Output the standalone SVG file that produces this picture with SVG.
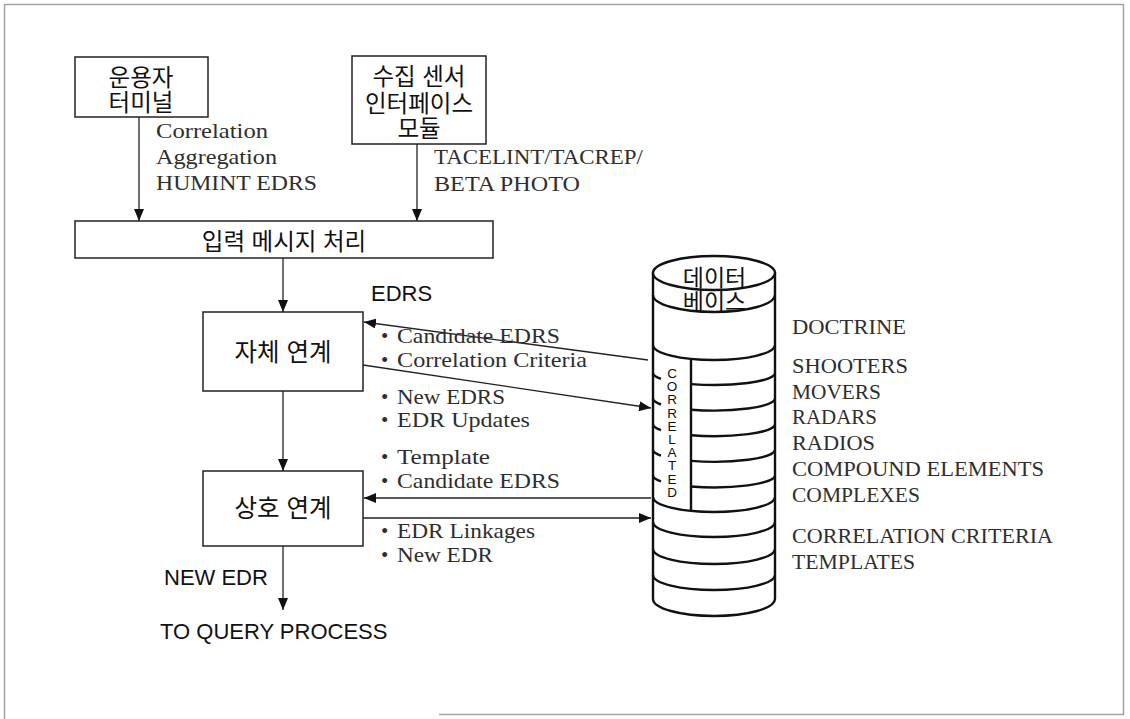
<svg xmlns="http://www.w3.org/2000/svg" width="1130" height="719" viewBox="0 0 1130 719">
  <style>
    .frame { fill: none; stroke: #a3a3a3; stroke-width: 1.5; }
    .box { fill: #fff; stroke: #222; stroke-width: 1.5; }
    .ko { font-family: "Liberation Sans", "Noto Sans CJK KR", sans-serif; font-size: 23.5px; fill: #111; text-anchor: middle; }
    .serif { font-family: "Liberation Serif", "Times New Roman", serif; font-size: 21px; fill: #2e2e2e; }
    .sans { font-family: "Liberation Sans", Arial, sans-serif; font-size: 22px; fill: #111; }
    .vert { font-family: "Liberation Sans", Arial, sans-serif; font-size: 13.5px; fill: #111; writing-mode: vertical-rl; text-orientation: upright; letter-spacing: -1.8px; }
    .conn { fill: none; stroke: #222; stroke-width: 1.3; }
    .db { fill: #fff; stroke: #111; stroke-width: 2.4; }
    .dbline { fill: none; stroke: #111; stroke-width: 2.4; }
  </style>
  <defs>
    <marker id="arrow" markerUnits="userSpaceOnUse" markerWidth="12" markerHeight="10" refX="12" refY="5" orient="auto">
      <path d="M0,0 L12,5 L0,10 Z" fill="#111"/>
    </marker>
  </defs>

  <rect width="1130" height="719" fill="#fff"/>
  <path class="frame" d="M4.5,719 V4.5 H1123.5 V714.5 H439"/>

  <!-- connectors -->
  <g id="connectors">
    <line class="conn" x1="139" y1="117" x2="139" y2="221" marker-end="url(#arrow)"/>
    <line class="conn" x1="417" y1="144" x2="417" y2="221" marker-end="url(#arrow)"/>
    <line class="conn" x1="283" y1="258" x2="283" y2="312" marker-end="url(#arrow)"/>
    <line class="conn" x1="283" y1="391" x2="283" y2="471" marker-end="url(#arrow)"/>
    <line class="conn" x1="283" y1="546" x2="283" y2="610" marker-end="url(#arrow)"/>
    <line class="conn" x1="648" y1="360" x2="364" y2="322" marker-end="url(#arrow)"/>
    <line class="conn" x1="363" y1="365" x2="651" y2="408" marker-end="url(#arrow)"/>
    <line class="conn" x1="651" y1="498" x2="364" y2="498" marker-end="url(#arrow)"/>
    <line class="conn" x1="363" y1="518" x2="651" y2="518" marker-end="url(#arrow)"/>
  </g>

  <!-- operator terminal -->
  <g id="operator-terminal">
    <rect class="box" x="75" y="57" width="133" height="60"/>
    <text class="ko" x="141" y="85.5">운용자</text>
    <text class="ko" x="141" y="110.5">터미널</text>
  </g>

  <!-- sensor interface module -->
  <g id="sensor-interface">
    <rect class="box" x="352" y="56" width="134" height="88"/>
    <text class="ko" x="419" y="84.5">수집 센서</text>
    <text class="ko" x="419" y="111.5">인터페이스</text>
    <text class="ko" x="419" y="137">모듈</text>
  </g>

  <!-- input message processing -->
  <g id="input-processing">
    <rect class="box" x="75" y="221" width="418" height="37"/>
    <text class="ko" x="284" y="250" style="font-size:23.5px">입력 메시지 처리</text>
  </g>

  <!-- self correlation -->
  <g id="self-correlation">
    <rect class="box" x="203" y="312" width="160" height="79"/>
    <text class="ko" x="283" y="361" style="font-size:24.5px">자체 연계</text>
  </g>

  <!-- cross correlation -->
  <g id="cross-correlation">
    <rect class="box" x="203" y="471" width="160" height="75"/>
    <text class="ko" x="283" y="517" style="font-size:24.5px">상호 연계</text>
  </g>

  <!-- database cylinder -->
  <g id="database">
    <path class="db" d="M653,273 V599 A61,17 0 0 0 775,599 V273 Z"/>
    <ellipse class="db" cx="714" cy="273" rx="61" ry="17"/>
    <path class="dbline" d="M653,295 A61,17 0 0 0 775,295"/>
    <path class="dbline" d="M653,345 A61,15 0 0 0 775,345"/>
    <path class="dbline" d="M653,497 A61,15 0 0 0 775,497"/>
    <path class="dbline" d="M653,522 A61,15 0 0 0 775,522"/>
    <path class="dbline" d="M653,549 A61,15 0 0 0 775,549"/>
    <path class="dbline" d="M653,575 A61,15 0 0 0 775,575"/>
    <!-- inner divider of the correlated block -->
    <line class="dbline" x1="691" y1="359" x2="691" y2="511"/>
    <!-- partial shelves: short tick on the left wall, arc on the right side -->
    <path class="dbline" d="M653,373 A61,12 0 0 0 661,378.9 M691,384.1 A61,12 0 0 0 775,373"/>
    <path class="dbline" d="M653,398.6 A61,12 0 0 0 661,404.5 M691,409.7 A61,12 0 0 0 775,398.6"/>
    <path class="dbline" d="M653,424.2 A61,12 0 0 0 661,430.1 M691,435.3 A61,12 0 0 0 775,424.2"/>
    <path class="dbline" d="M653,449.8 A61,12 0 0 0 661,455.7 M691,460.9 A61,12 0 0 0 775,449.8"/>
    <path class="dbline" d="M653,475.4 A61,12 0 0 0 661,481.3 M691,486.5 A61,12 0 0 0 775,475.4"/>
    <text class="ko" x="714.5" y="285.5" style="font-size:23px">데이터</text>
    <text class="ko" x="714.5" y="310" style="font-size:23px">베이스</text>
    <text class="vert" x="672" y="366">CORRELATED</text>
  </g>

  <!-- input flow labels -->
  <g id="input-labels">
    <text class="serif" x="156" y="138" textLength="112" lengthAdjust="spacingAndGlyphs">Correlation</text>
    <text class="serif" x="156" y="164" textLength="121" lengthAdjust="spacingAndGlyphs">Aggregation</text>
    <text class="serif" x="156" y="190" textLength="161" lengthAdjust="spacingAndGlyphs">HUMINT EDRS</text>
    <text class="serif" x="434" y="164" textLength="209" lengthAdjust="spacingAndGlyphs">TACELINT/TACREP/</text>
    <text class="serif" x="434" y="191" textLength="146" lengthAdjust="spacingAndGlyphs">BETA PHOTO</text>
  </g>

  <!-- exchange labels between processes and database -->
  <g id="exchange-labels">
    <text class="sans" x="371" y="300.5">EDRS</text>
    <text class="serif" x="381" y="343">•</text>
    <text class="serif" x="397" y="343" textLength="163" lengthAdjust="spacingAndGlyphs">Candidate EDRS</text>
    <text class="serif" x="381" y="367">•</text>
    <text class="serif" x="397" y="367" textLength="190" lengthAdjust="spacingAndGlyphs">Correlation Criteria</text>
    <text class="serif" x="381" y="403.5">•</text>
    <text class="serif" x="397" y="403.5" textLength="108" lengthAdjust="spacingAndGlyphs">New EDRS</text>
    <text class="serif" x="381" y="427">•</text>
    <text class="serif" x="397" y="427" textLength="133" lengthAdjust="spacingAndGlyphs">EDR Updates</text>
    <text class="serif" x="381" y="464">•</text>
    <text class="serif" x="397" y="464" textLength="93" lengthAdjust="spacingAndGlyphs">Template</text>
    <text class="serif" x="381" y="488">•</text>
    <text class="serif" x="397" y="488" textLength="163" lengthAdjust="spacingAndGlyphs">Candidate EDRS</text>
    <text class="serif" x="381" y="537.5">•</text>
    <text class="serif" x="397" y="537.5" textLength="138" lengthAdjust="spacingAndGlyphs">EDR Linkages</text>
    <text class="serif" x="381" y="561.5">•</text>
    <text class="serif" x="397" y="561.5" textLength="96" lengthAdjust="spacingAndGlyphs">New EDR</text>
  </g>

  <!-- output labels -->
  <g id="output-labels">
    <text class="sans" x="164" y="585">NEW EDR</text>
    <text class="sans" x="160" y="639">TO QUERY PROCESS</text>
  </g>

  <!-- database contents -->
  <g id="database-contents">
    <text class="serif" x="792" y="334" textLength="114" lengthAdjust="spacingAndGlyphs">DOCTRINE</text>
    <text class="serif" x="792" y="373" textLength="116" lengthAdjust="spacingAndGlyphs">SHOOTERS</text>
    <text class="serif" x="792" y="398.5" textLength="89" lengthAdjust="spacingAndGlyphs">MOVERS</text>
    <text class="serif" x="792" y="424" textLength="85" lengthAdjust="spacingAndGlyphs">RADARS</text>
    <text class="serif" x="792" y="449.5" textLength="83" lengthAdjust="spacingAndGlyphs">RADIOS</text>
    <text class="serif" x="792" y="475.5" textLength="252" lengthAdjust="spacingAndGlyphs">COMPOUND ELEMENTS</text>
    <text class="serif" x="792" y="501.5" textLength="128" lengthAdjust="spacingAndGlyphs">COMPLEXES</text>
    <text class="serif" x="792" y="543" textLength="261" lengthAdjust="spacingAndGlyphs">CORRELATION CRITERIA</text>
    <text class="serif" x="792" y="569" textLength="123" lengthAdjust="spacingAndGlyphs">TEMPLATES</text>
  </g>
</svg>
